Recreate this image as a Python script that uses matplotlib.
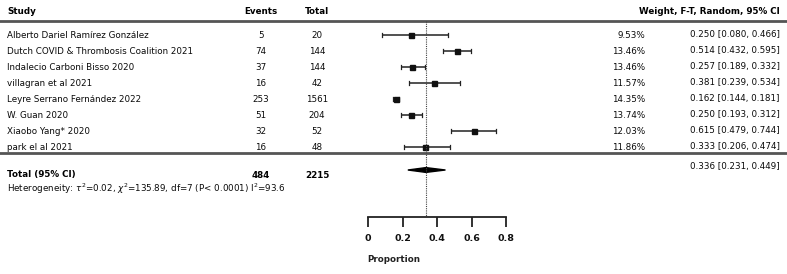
import matplotlib
matplotlib.use("Agg")
import matplotlib.pyplot as plt
from matplotlib.patches import Polygon

studies = ["Alberto Dariel Ramírez González",
           "Dutch COVID & Thrombosis Coalition 2021",
           "Indalecio Carboni Bisso 2020",
           "villagran et al 2021",
           "Leyre Serrano Fernández 2022",
           "W. Guan 2020",
           "Xiaobo Yang* 2020",
           "park el al 2021"]
events = [5, 74, 37, 16, 253, 51, 32, 16]
totals = [20, 144, 144, 42, 1561, 204, 52, 48]
weights = [9.53, 13.46, 13.46, 11.57, 14.35, 13.74, 12.03, 11.86]
est = [0.250, 0.514, 0.257, 0.381, 0.162, 0.250, 0.615, 0.333]
lo = [0.080, 0.432, 0.189, 0.239, 0.144, 0.193, 0.479, 0.206]
hi = [0.466, 0.595, 0.332, 0.534, 0.181, 0.312, 0.744, 0.474]
total_events = 484
total_n = 2215
pooled = 0.336
pooled_lo = 0.231
pooled_hi = 0.449
xticks = [0, 0.2, 0.4, 0.6, 0.8]
het_text = r"Heterogeneity: $\tau^2$=0.02, $\chi^2$=135.89, df=7 (P< 0.0001) I$^2$=93.6"

W, H = 787, 274
fig = plt.figure(figsize=(W / 100, H / 100), dpi=100)
plt.rcParams['font.family'] = ['DejaVu Sans']
plt.rcParams['mathtext.fontset'] = 'dejavusans'

axis_px = 217
ax = fig.add_axes([0, (H - axis_px) / H, 1, axis_px / H])
x0px, scale = 368, 172.5
ax.set_xlim(-x0px / scale, (W - x0px) / scale)
row0, step = 35, 16
ax.set_ylim((axis_px - row0) / step, -row0 / step)

for s in ["top", "left", "right"]:
    ax.spines[s].set_visible(False)
ax.spines["bottom"].set_bounds(xticks[0], xticks[-1])
ax.spines["bottom"].set_linewidth(1.3)
ax.spines["bottom"].set_color("#222222")
ax.set_yticks([])
ax.set_xticks(xticks)
ax.set_xticklabels(["0", "0.2", "0.4", "0.6", "0.8"])
ax.tick_params(axis="x", direction="out", length=7, width=1.3, pad=5.5,
               labelsize=6.8, labelcolor="#111111", color="#222222")
for t in ax.get_xticklabels():
    t.set_fontweight("bold")
ax.set_xlabel("Proportion", fontsize=6.3, labelpad=8.5, fontweight="bold", color="#222222")
ax.patch.set_alpha(0)

fs = 6.3
tc = "#0a0a0a"
yt = ax.get_yaxis_transform()
def col(xpx):
    return xpx / W

head_y = (12 - row0) / step
ax.text(col(7), head_y, "Study", transform=yt, fontsize=fs, fontweight="bold", va="center", ha="left")
ax.text(col(261), head_y, "Events", transform=yt, fontsize=fs, fontweight="bold", va="center", ha="center")
ax.text(col(317), head_y, "Total", transform=yt, fontsize=fs, fontweight="bold", va="center", ha="center")
ax.text(col(780), head_y, "Weight, F-T, Random, 95% CI", transform=yt, fontsize=fs, fontweight="bold", va="center", ha="right")

line_col = "#555555"
ax.axhline((21 - row0) / step, color=line_col, lw=2)
ax.axhline((153 - row0) / step, color=line_col, lw=2)

for i, name in enumerate(studies):
    ax.text(col(7), i, name, transform=yt, fontsize=fs, va="center", ha="left", color=tc)
    ax.text(col(261), i, str(events[i]), transform=yt, fontsize=fs, va="center", ha="center", color=tc)
    ax.text(col(317), i, str(totals[i]), transform=yt, fontsize=fs, va="center", ha="center", color=tc)
    ax.text(col(645), i, f"{weights[i]:.2f}%", transform=yt, fontsize=fs, va="center", ha="right", color=tc)
    ax.text(col(780), i, f"{est[i]:.3f} [{lo[i]:.3f}, {hi[i]:.3f}]", transform=yt, fontsize=fs,
            va="center", ha="right", color=tc)
    ax.plot([lo[i], hi[i]], [i, i], color="#222222", lw=1.1, solid_capstyle="butt")
    ax.plot([lo[i], lo[i]], [i - 0.12, i + 0.12], color="#222222", lw=0.9)
    ax.plot([hi[i], hi[i]], [i - 0.12, i + 0.12], color="#222222", lw=0.9)
    ax.plot(est[i], i, marker="s", ms=3.6, color="#111111", mec="#111111")

tot_y = (175 - row0) / step
ax.text(col(7), tot_y, "Total (95% CI)", transform=yt, fontsize=fs, fontweight="bold", va="center", ha="left")
ax.text(col(261), tot_y, str(total_events), transform=yt, fontsize=fs, fontweight="bold", va="center", ha="center")
ax.text(col(317), tot_y, str(total_n), transform=yt, fontsize=fs, fontweight="bold", va="center", ha="center")
ax.text(col(780), (166 - row0) / step, f"{pooled:.3f} [{pooled_lo:.3f}, {pooled_hi:.3f}]",
        transform=yt, fontsize=fs, va="center", ha="right", color=tc)
ax.text(col(7), (189 - row0) / step, het_text, transform=yt, fontsize=fs, va="center", ha="left", color=tc)

dy = (170 - row0) / step
dh = 0.15
ax.add_patch(Polygon([[pooled_lo, dy], [pooled, dy - dh], [pooled_hi, dy], [pooled, dy + dh]],
                     closed=True, color="#000000"))

ax.plot([pooled, pooled], [(21 - row0) / step, (axis_px - row0) / step], color="#444444",
        lw=0.8, ls=(0, (1, 1)))

fig.savefig("out.png", dpi=100)
